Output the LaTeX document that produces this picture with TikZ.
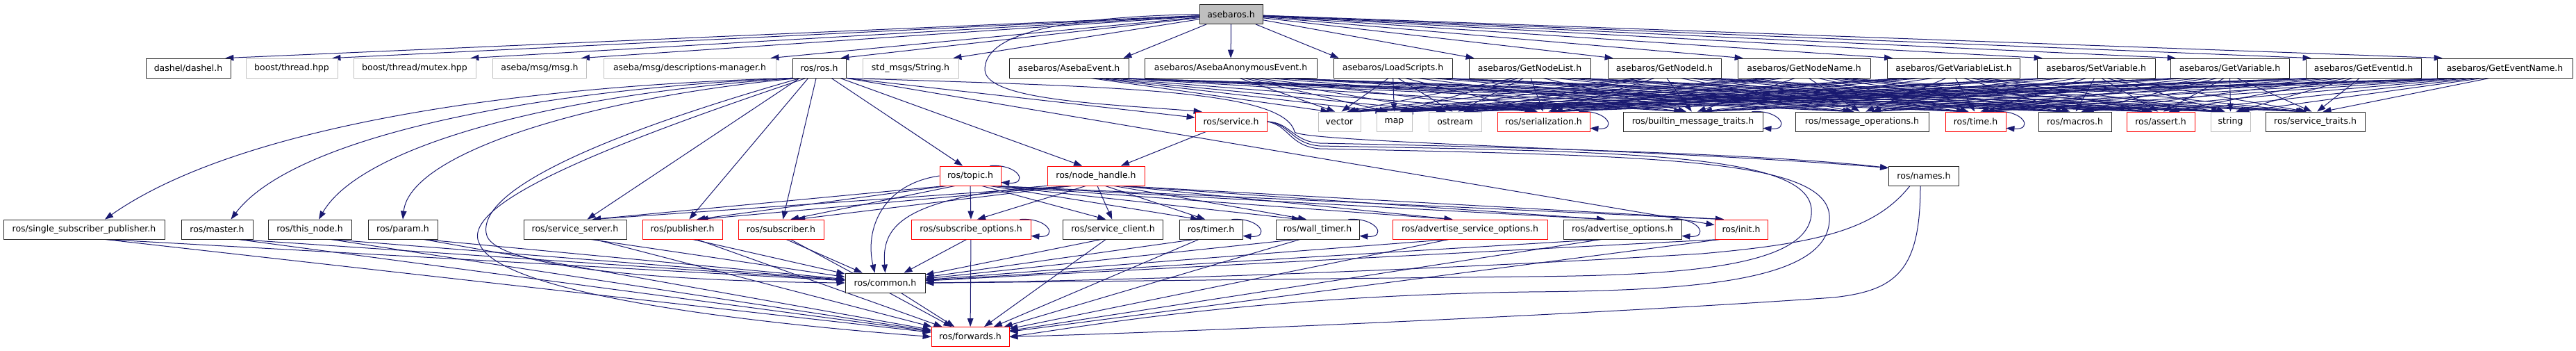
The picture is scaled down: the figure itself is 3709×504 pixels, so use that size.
\documentclass[tikz,border=0pt]{standalone}
\usepackage{fontspec}
\newfontfamily\dxfont{DejaVu Sans}
\usetikzlibrary{calc,arrows.meta,backgrounds}
\definecolor{edgeblue}{HTML}{191970}
\definecolor{grey75}{HTML}{BFBFBF}
\tikzset{
	incfile/.style={draw=black!85,fill=white,line width=0.8pt,minimum height=28pt,inner sep=0pt,font=\dxfont\fontsize{12.5}{15}\selectfont},
	truncfile/.style={incfile,draw=red},
	extfile/.style={incfile,draw=grey75},
	rootfile/.style={incfile,fill=grey75},
	incl/.style={draw=edgeblue,line width=1pt,-{Triangle[length=12pt,width=8.5pt]}}
}
\begin{document}
\begin{tikzpicture}[x=1pt,y=-1pt]
	\useasboundingbox (0,0) rectangle (3709,504);

	\node[rootfile,minimum width=91pt] (top) at (1772.5,20.5) {asebaros.h};

	\node[incfile,minimum width=122pt] (dashel) at (271,98) {dashel/dashel.h};
	\node[extfile,minimum width=132pt] (bthread) at (420,98) {boost/thread.hpp};
	\node[extfile,minimum width=176pt] (bmutex) at (597,98) {boost/thread/mutex.hpp};
	\node[extfile,minimum width=135pt] (amsg) at (777,98) {aseba/msg/msg.h};
	\node[extfile,minimum width=248pt] (adesc) at (993,98) {aseba/msg/descriptions-manager.h};
	\node[incfile,minimum width=77pt] (rosros) at (1179.5,98) {ros/ros.h};
	\node[extfile,minimum width=138pt] (strmsg) at (1311,98) {std\_msgs/String.h};
	\node[incfile,minimum width=172pt] (evt) at (1539,98) {asebaros/AsebaEvent.h};
	\node[incfile,minimum width=248pt] (anon) at (1772,98) {asebaros/AsebaAnonymousEvent.h};
	\node[incfile,minimum width=171pt] (load) at (2005.5,98) {asebaros/LoadScripts.h};
	\node[incfile,minimum width=175pt] (nlist) at (2202.5,98) {asebaros/GetNodeList.h};
	\node[incfile,minimum width=163pt] (nid) at (2396.5,98) {asebaros/GetNodeId.h};
	\node[incfile,minimum width=191pt] (nname) at (2597.5,98) {asebaros/GetNodeName.h};
	\node[incfile,minimum width=191pt] (vlist) at (2813,98) {asebaros/GetVariableList.h};
	\node[incfile,minimum width=170pt] (setvar) at (3018,98) {asebaros/SetVariable.h};
	\node[incfile,minimum width=171pt] (getvar) at (3210.5,98) {asebaros/GetVariable.h};
	\node[incfile,minimum width=166pt] (eid) at (3403,98) {asebaros/GetEventId.h};
	\node[incfile,minimum width=195pt] (ename) at (3606.5,98) {asebaros/GetEventName.h};

	\node[truncfile,minimum width=103pt] (service) at (1772.5,175) {ros/service.h};
	\node[extfile,minimum width=61pt] (vector) at (1928.5,175) {vector};
	\node[extfile,minimum width=51pt] (map) at (2007.5,175) {map};
	\node[extfile,minimum width=76pt] (ostream) at (2095,175) {ostream};
	\node[truncfile,minimum width=133pt] (serial) at (2222.5,175) {ros/serialization.h};
	\node[incfile,minimum width=201pt] (builtin) at (2437.5,175) {ros/builtin\_message\_traits.h};
	\node[incfile,minimum width=192pt] (msgops) at (2681,175) {ros/message\_operations.h};
	\node[truncfile,minimum width=87pt] (time) at (2844.5,175) {ros/time.h};
	\node[incfile,minimum width=105pt] (macros) at (2987.5,175) {ros/macros.h};
	\node[truncfile,minimum width=98pt] (assert) at (3111,175) {ros/assert.h};
	\node[extfile,minimum width=57pt] (string) at (3211.5,175) {string};
	\node[incfile,minimum width=143pt] (srvtraits) at (3333.5,175) {ros/service\_traits.h};

	\node[truncfile,minimum width=88pt] (topic) at (1397,253) {ros/topic.h};
	\node[truncfile,minimum width=140pt] (nh) at (1578,253) {ros/node\_handle.h};
	\node[incfile,minimum width=101pt] (names) at (2770,253) {ros/names.h};

	\node[incfile,minimum width=232pt] (ssp) at (121,330) {ros/single\_subscriber\_publisher.h};
	\node[incfile,minimum width=103pt] (master) at (312.5,330) {ros/master.h};
	\node[incfile,minimum width=120pt] (thisnode) at (446,330) {ros/this\_node.h};
	\node[incfile,minimum width=100pt] (param) at (580,330) {ros/param.h};
	\node[incfile,minimum width=148pt] (srvserver) at (828,330) {ros/service\_server.h};
	\node[truncfile,minimum width=115pt] (pub) at (982.5,330) {ros/publisher.h};
	\node[truncfile,minimum width=123pt] (sub) at (1124.5,330) {ros/subscriber.h};
	\node[truncfile,minimum width=172pt] (subopts) at (1398,330) {ros/subscribe\_options.h};
	\node[incfile,minimum width=144pt] (srvclient) at (1602.5,330) {ros/service\_client.h};
	\node[incfile,minimum width=91pt] (timer) at (1743.5,330) {ros/timer.h};
	\node[incfile,minimum width=120pt] (walltimer) at (1897,330) {ros/wall\_timer.h};
	\node[truncfile,minimum width=223pt] (advsrv) at (2116.5,330) {ros/advertise\_service\_options.h};
	\node[incfile,minimum width=170pt] (advopts) at (2336,330) {ros/advertise\_options.h};
	\node[truncfile,minimum width=76pt] (init) at (2507,330) {ros/init.h};

	\node[incfile,minimum width=115pt] (common) at (1274.5,407) {ros/common.h};
	\node[truncfile,minimum width=112pt] (forwards) at (1397,484.5) {ros/forwards.h};

	\begin{scope}[on background layer]
	\foreach \t in {dashel,bthread,bmutex,amsg,adesc,rosros,strmsg,evt}
		\draw[incl] (top) -- ([xshift=-8pt]\t.north east);
	\foreach \t in {load,nlist,nid,nname,vlist,setvar,getvar,eid,ename}
		\draw[incl] (top) -- ([xshift=8pt]\t.north west);
	\draw[incl] (top) -- (anon);
	\draw[incl] (top.west) .. controls (1500,25) and (1418,55) .. (1418,100) .. controls (1418,145) and (1600,150) .. ([xshift=10pt]service.north west);

	\foreach \m in {evt,anon,load,nlist,nid,nname,vlist,setvar,getvar,eid,ename}
		\foreach \t in {vector,map,ostream,serial,builtin,msgops,time,macros,assert,string}
			\draw[incl] let \p1=(\m.south), \p2=(\t.north),
				\n1={max(-70,min(70,0.08*(\x2-\x1)))}, \n2={max(-15,min(15,0.04*(\x2-\x1)))}
				in ({\x1+\n1*1pt},\y1) -- ({\x2-(\n2)*1pt},\y2);
	\foreach \m in {load,nlist,nid,nname,vlist,setvar,getvar,eid,ename}
		\draw[incl] let \p1=(\m.south), \p2=(srvtraits.north),
			\n1={max(-70,min(70,0.08*(\x2-\x1)))}, \n2={max(-15,min(15,0.04*(\x2-\x1)))}
			in ({\x1+\n1*1pt},\y1) -- ({\x2-(\n2)*1pt},\y2);

	\draw[incl] (rosros.south west) .. controls (700,125) and (330,190) .. ([xshift=30pt]ssp.north);
	\draw[incl] (rosros.south west) .. controls (750,130) and (420,200) .. ([xshift=20pt]master.north);
	\draw[incl] ([xshift=5pt]rosros.south west) .. controls (800,135) and (520,210) .. ([xshift=13pt]thisnode.north);
	\draw[incl] ([xshift=10pt]rosros.south west) .. controls (850,140) and (590,220) .. (param.north);
	\foreach \t in {srvserver,pub,sub,topic,nh}
		\draw[incl] let \p1=(rosros.south), \p2=(\t.north),
			\n1={max(-30,min(30,0.08*(\x2-\x1)))}, \n2={max(-25,min(25,0.05*(\x2-\x1)))}
			in ({\x1+\n1*1pt},\y1) -- ({\x2-(\n2)*1pt},\y2);
	\draw[incl] (rosros.south east) -- (service);
	\draw[incl] (rosros.south east) -- (init);
	\draw[incl] (rosros.south east) .. controls (1600,125) and (1850,128) .. (1864,190) .. controls (1880,205) and (2400,215) .. ([yshift=-3pt]names.north west);
	\draw[incl] ([xshift=12pt]rosros.south west) .. controls (880,190) and (690,270) .. (700,335) .. controls (705,390) and (1000,405) .. (common.west);
	\draw[incl] ([xshift=20pt]rosros.south west) .. controls (900,200) and (660,290) .. (690,350) .. controls (720,430) and (1150,470) .. (forwards.west);

	\draw[incl] (service) -- (nh);
	\draw[incl] (service.east) .. controls (1858,176) and (1860,203) .. (1900,206) .. controls (2200,212) and (2550,222) .. ([yshift=-3pt]names.north west);
	\draw[incl] (service.east) .. controls (1858,178) and (1858,206) .. (1900,210) .. controls (2350,218) and (2600,222) .. (2608,300) .. controls (2615,385) and (2420,396) .. (2200,398) .. controls (1800,402) and (1500,406) .. (common.east);
	\draw[incl] (service.east) .. controls (1856,180) and (1856,210) .. (1900,214) .. controls (2380,224) and (2628,228) .. (2634,310) .. controls (2640,405) and (2440,418) .. (2200,420) .. controls (1800,426) and (1560,470) .. (forwards.east);

	\foreach \s in {topic,nh}
		\foreach \t in {srvserver,pub,sub,subopts,srvclient,timer,walltimer,advsrv,advopts,init}
			\draw[incl] let \p1=(\s.south), \p2=(\t.north),
				\n1={max(-35,min(35,0.08*(\x2-\x1)))}, \n2={max(-25,min(25,0.05*(\x2-\x1)))}
				in ({\x1+\n1*1pt},\y1) -- ({\x2-(\n2)*1pt},\y2);
	\draw[incl] (topic.west) .. controls (1270,265) and (1245,330) .. ([xshift=-15pt]common.north);
	\draw[incl] (nh.south west) .. controls (1290,285) and (1270,330) .. (common.north);

	\draw[incl] ([xshift=-20pt]names.south) .. controls (2700,330) and (2620,350) .. (2450,365) .. controls (2000,392) and (1600,404) .. (common.east);
	\draw[incl] ([xshift=-5pt]names.south) .. controls (2765,390) and (2730,418) .. (2640,428) .. controls (2300,452) and (1700,478) .. (forwards.east);

	\foreach \s in {ssp,master,thisnode,param,srvserver,pub,sub,subopts,srvclient,timer,walltimer,advsrv,advopts,init}
		\foreach \t in {common,forwards}
			\draw[incl] let \p1=(\s.south), \p2=(\t), \n1={max(-30,min(30,0.05*(\x2-\x1)))}
				in ({\x1+\n1*1pt},\y1) -- (\t);
	\draw[incl] (common) -- (forwards);

	\foreach \f in {serial,builtin,time,topic,subopts,timer,walltimer,advopts}
		\draw[incl] ([xshift=-16pt]\f.north east) .. controls +(42,-3) and +(40,3) .. ([yshift=5pt]\f.south east);
	\end{scope}
\end{tikzpicture}
\end{document}
